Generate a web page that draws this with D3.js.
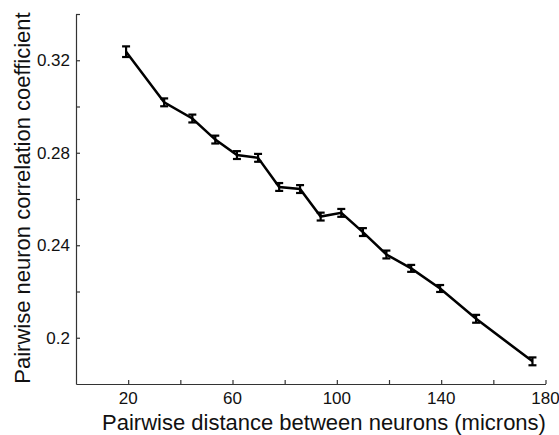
<!DOCTYPE html>
<html>
<head>
<meta charset="utf-8">
<script src="https://cdn.jsdelivr.net/npm/d3@7"></script>
<style>
  body { margin: 0; background: #fff; }
  text { font-family: "Liberation Sans", Arial, sans-serif; fill: #111; }
</style>
</head>
<body>
<script>
var width = 559;
var height = 435;

// distance bins (microns) and mean correlation
var distances = [19.2, 33.8, 44.6, 53.4, 61.7, 69.8, 77.9, 85.9, 93.8, 101.7, 110.0, 119.0, 128.5, 139.6, 153.4, 175.0];
var correlations = [0.3237, 0.3018, 0.2948, 0.2857, 0.2790, 0.2778, 0.2652, 0.2643, 0.2524, 0.2540, 0.2457, 0.2360, 0.2300, 0.2213, 0.2082, 0.1898];
var errors = [0.0023, 0.0017, 0.0017, 0.0017, 0.0017, 0.0017, 0.0017, 0.0017, 0.0017, 0.0017, 0.0017, 0.0017, 0.0015, 0.0015, 0.0017, 0.0017];

var xTicks = [20, 40, 60, 80, 100, 120, 140, 160, 180];
var xLabels = [20, 60, 100, 140, 180];
var yTicks = [0.2, 0.22, 0.24, 0.26, 0.28, 0.30, 0.32, 0.34];
var yLabels = [0.2, 0.24, 0.28, 0.32];

var data = distances.map(function(d, i) {
  return { x: d, y: correlations[i], e: errors[i] };
});

var svg = d3.select('body')
  .append('svg')
  .attr('width', width)
  .attr('height', height);

var x = d3.scaleLinear().domain([0, 180]).range([76, 545.5]);
var y = d3.scaleLinear().domain([0.18, 0.34]).range([384, 14]);

// axes, ticks pointing inward
var xAxis = svg.append('g')
  .attr('transform', 'translate(0,384)')
  .call(d3.axisTop(x).tickValues(xTicks).tickSize(4).tickSizeOuter(0).tickFormat(''));
var yAxis = svg.append('g')
  .attr('transform', 'translate(76,0)')
  .call(d3.axisRight(y).tickValues(yTicks).tickSize(4).tickSizeOuter(0).tickFormat(''));
svg.selectAll('.domain, .tick line').attr('stroke', '#333').attr('stroke-width', 1.2);

// tick labels
svg.append('g').selectAll('text')
  .data(xLabels)
  .enter()
  .append('text')
  .attr('x', function(d) { return x(d); })
  .attr('y', 404)
  .attr('text-anchor', 'middle')
  .attr('font-size', 17)
  .text(function(d) { return d; });

svg.append('g').selectAll('text')
  .data(yLabels)
  .enter()
  .append('text')
  .attr('x', 70)
  .attr('y', function(d) { return y(d); })
  .attr('dy', '0.35em')
  .attr('text-anchor', 'end')
  .attr('font-size', 17)
  .text(function(d) { return d3.format('.2~f')(d); });

// axis titles
svg.append('text')
  .attr('x', 324)
  .attr('y', 430)
  .attr('text-anchor', 'middle')
  .attr('font-size', 22)
  .text('Pairwise distance between neurons (microns)');

svg.append('text')
  .attr('transform', 'translate(29.5,198) rotate(-90)')
  .attr('text-anchor', 'middle')
  .attr('font-size', 22)
  .text('Pairwise neuron correlation coefficient');

// line
var line = d3.line()
  .x(function(d) { return x(d.x); })
  .y(function(d) { return y(d.y); });

svg.append('path')
  .datum(data)
  .attr('fill', 'none')
  .attr('stroke', '#000')
  .attr('stroke-width', 2.5)
  .attr('d', line);

// error bars
var bars = svg.append('g')
  .attr('stroke', '#000')
  .attr('stroke-width', 2.2)
  .selectAll('g')
  .data(data)
  .enter()
  .append('g');

bars.append('line')
  .attr('x1', function(d) { return x(d.x); })
  .attr('x2', function(d) { return x(d.x); })
  .attr('y1', function(d) { return y(d.y - d.e); })
  .attr('y2', function(d) { return y(d.y + d.e); });

bars.append('line')
  .attr('x1', function(d) { return x(d.x) - 4; })
  .attr('x2', function(d) { return x(d.x) + 4; })
  .attr('y1', function(d) { return y(d.y + d.e); })
  .attr('y2', function(d) { return y(d.y + d.e); });

bars.append('line')
  .attr('x1', function(d) { return x(d.x) - 4; })
  .attr('x2', function(d) { return x(d.x) + 4; })
  .attr('y1', function(d) { return y(d.y - d.e); })
  .attr('y2', function(d) { return y(d.y - d.e); });
</script>
</body>
</html>
